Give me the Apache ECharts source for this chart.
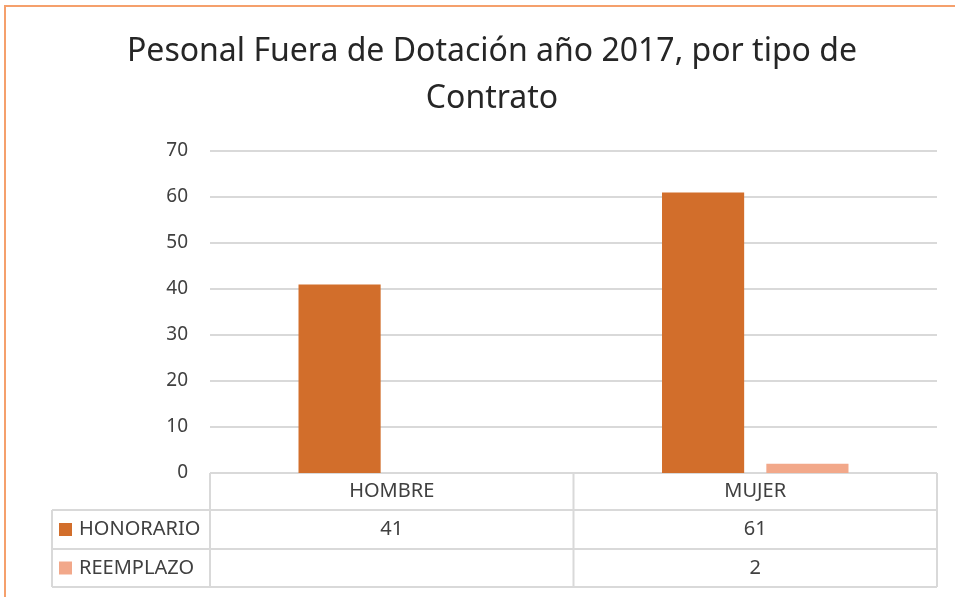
<!DOCTYPE html>
<html>
<head>
<meta charset="utf-8">
<script src="https://cdn.jsdelivr.net/npm/echarts@6/dist/echarts.min.js"></script>
<style>
  html, body { margin: 0; padding: 0; background: #fff; }
  #main { width: 955px; height: 597px; }
</style>
</head>
<body>
<div id="main"></div>
<script>
// datos del gráfico
const categories = ['HOMBRE', 'MUJER']
const seriesNames = ['HONORARIO', 'REEMPLAZO']
const honorario = [41, 61]
const reemplazo = [null, 2]
const yTicks = [0, 10, 20, 30, 40, 50, 60, 70]

const colors = ['#D26E2B', '#F2A88A']
const font = 'Noto Sans'
const textColor = '#404040'
const lineColor = '#D9D9D9'

const myChart = echarts.init(document.getElementById('main'))

const grid = { left: 210, right: 18, top: 151, bottom: 124 }

const option = {
  animation: false,
  backgroundColor: '#fff',
  textStyle: { fontFamily: font },
  title: {
    text: 'Pesonal Fuera de Dotación año 2017, por tipo de\nContrato',
    left: 487,
    textAlign: 'center',
    top: 23,
    textStyle: {
      fontFamily: font,
      fontSize: 32,
      fontWeight: 'normal',
      color: '#262626',
      lineHeight: 47,
      align: 'center'
    }
  },
  grid: grid,
  xAxis: {
    type: 'category',
    data: categories,
    axisLine: { show: false },
    axisTick: { show: false },
    axisLabel: { show: false }
  },
  yAxis: {
    type: 'value',
    min: yTicks[0],
    max: yTicks[yTicks.length - 1],
    interval: 10,
    axisLine: { show: false },
    axisTick: { show: false },
    axisLabel: {
      color: textColor,
      fontSize: 19,
      fontFamily: font,
      margin: 22
    },
    splitLine: { lineStyle: { color: lineColor, width: 2 } }
  },
  series: [
    {
      name: seriesNames[0],
      type: 'bar',
      data: honorario,
      barWidth: '22.6%',
      barGap: '27%',
      itemStyle: { color: colors[0] }
    },
    {
      name: seriesNames[1],
      type: 'bar',
      data: reemplazo,
      barWidth: '22.6%',
      itemStyle: { color: colors[1] }
    }
  ]
}
myChart.setOption(option)

// tabla de datos bajo el gráfico
function buildTable () {
  const W = myChart.getWidth()
  const H = myChart.getHeight()
  const left = grid.left
  const right = W - grid.right
  const axisY = H - grid.bottom
  const rows = [axisY, 510, 549, 587]
  const tableLeft = 52
  const centers = categories.map(c => myChart.convertToPixel({ xAxisIndex: 0 }, c))
  const split = (centers[0] + centers[1]) / 2
  const els = []
  const line = (x1, y1, x2, y2) => els.push({
    type: 'line',
    shape: { x1, y1, x2, y2 },
    style: { stroke: lineColor, lineWidth: 2 },
    silent: true
  })
  const text = (x, y, t, align) => els.push({
    type: 'text',
    x,
    y,
    style: {
      text: t,
      fill: textColor,
      font: '20px "' + font + '"',
      align: align || 'center',
      verticalAlign: 'middle'
    },
    silent: true
  })

  // líneas horizontales
  line(left, rows[0], right, rows[0])
  for (let i = 1; i < rows.length; i++) line(tableLeft, rows[i], right, rows[i])
  // líneas verticales
  line(left, rows[0], left, rows[3])
  line(split, rows[0], split, rows[3])
  line(right, rows[0], right, rows[3])
  line(tableLeft, rows[1], tableLeft, rows[3])

  // encabezados de categoría
  categories.forEach((c, i) => text(centers[i], (rows[0] + rows[1]) / 2, c))

  // filas de series
  const seriesData = [honorario, reemplazo]
  seriesNames.forEach((name, r) => {
    const cy = (rows[r + 1] + rows[r + 2]) / 2
    els.push({
      type: 'rect',
      shape: { x: 59, y: cy - 6.5, width: 13, height: 13 },
      style: { fill: colors[r] },
      silent: true
    })
    text(79, cy, name, 'left')
    seriesData[r].forEach((v, i) => {
      if (v !== null) text(centers[i], cy, String(v))
    })
  })

  // borde naranja del área del gráfico
  els.push({
    type: 'polyline',
    shape: { points: [[5, H + 2], [5, 6], [W + 2, 6]] },
    style: { stroke: '#F5A06C', lineWidth: 2, fill: null },
    silent: true
  })

  myChart.setOption({ graphic: els })
}
buildTable()
</script>
</body>
</html>
